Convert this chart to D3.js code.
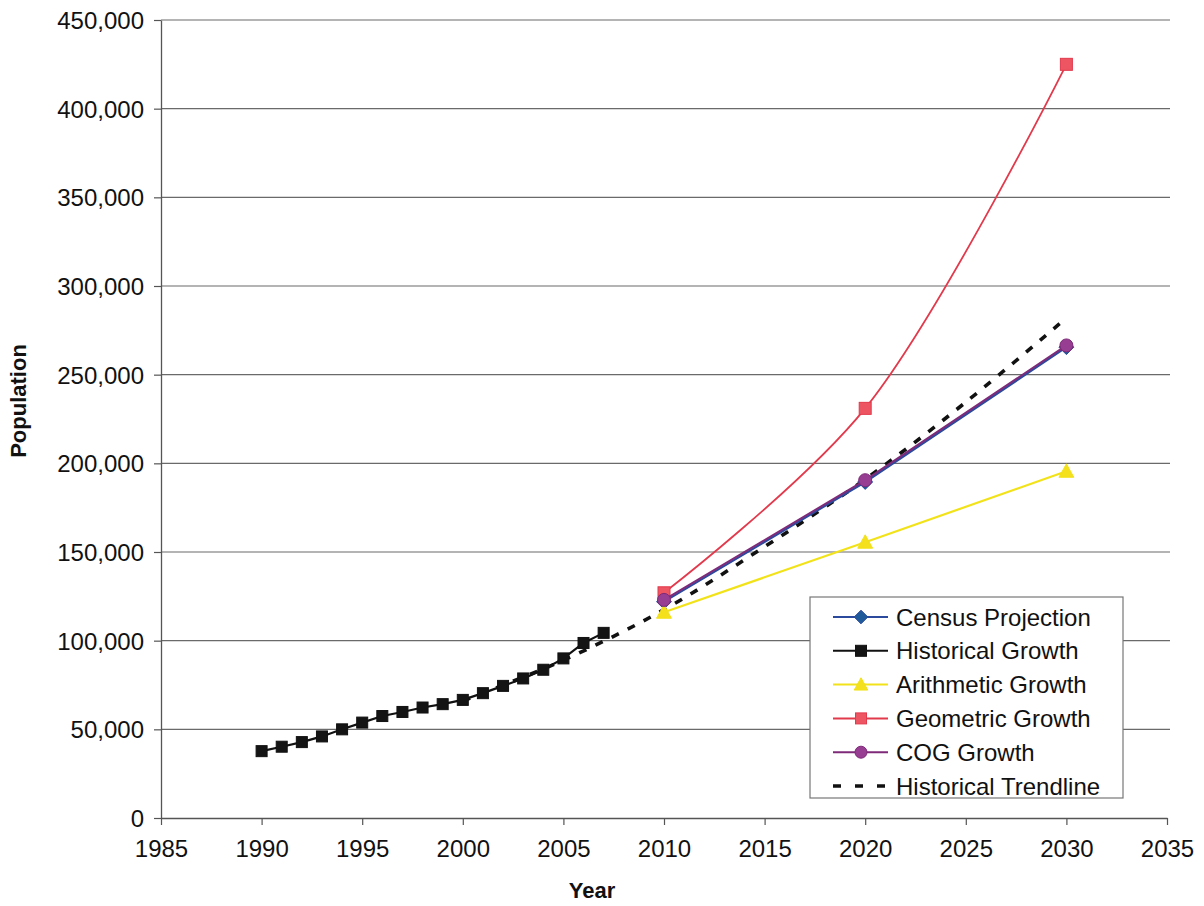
<!DOCTYPE html>
<html>
<head>
<meta charset="utf-8">
<script src="https://cdn.jsdelivr.net/npm/d3@7"></script>
<style>
  html, body { margin: 0; padding: 0; background: #fff; }
  svg { display: block; font-family: "Liberation Sans", Arial, sans-serif; }
</style>
</head>
<body>
<svg id="chart" width="1204" height="906"></svg>
<script>
// ---- data ----
const historicalYears = [1990, 1991, 1992, 1993, 1994, 1995, 1996, 1997, 1998, 1999,
                         2000, 2001, 2002, 2003, 2004, 2005, 2006, 2007];
const historicalPop   = [37700, 40200, 42800, 46000, 50000, 53800, 57500, 59800, 62300, 64200,
                         66600, 70400, 74500, 78700, 83600, 90000, 98700, 104400];

const projectionYears = [2010, 2020, 2030];
const censusPop     = [122000, 189500, 265500];
const arithmeticPop = [116000, 155500, 195500];
const geometricPop  = [127000, 231000, 425000];
const cogPop        = [123000, 190500, 266500];

const trendYears = [2000, 2005, 2010, 2015, 2020, 2025, 2030];
const trendPop   = [66000, 89000, 117500, 153000, 191000, 234500, 282000];

const xTicks = [1985, 1990, 1995, 2000, 2005, 2010, 2015, 2020, 2025, 2030, 2035];
const yTicks = [0, 50000, 100000, 150000, 200000, 250000, 300000, 350000, 400000, 450000];

const legendLabels = ["Census Projection", "Historical Growth", "Arithmetic Growth",
                      "Geometric Growth", "COG Growth", "Historical Trendline"];

// ---- layout ----
const svg = d3.select("#chart");
const x = d3.scaleLinear().domain([1985, 2035]).range([161, 1167]);
const y = d3.scaleLinear().domain([0, 450000]).range([818, 20]);

const fmt = d3.format(",");

// horizontal gridlines
svg.append("g")
  .selectAll("line")
  .data(yTicks.slice(1))
  .join("line")
  .attr("x1", x(1985)).attr("x2", x(2035) + 3)
  .attr("y1", d => y(d)).attr("y2", d => y(d))
  .attr("stroke", "#6a6a6a").attr("stroke-width", 1.1);

// axes
const xAxis = svg.append("g")
  .attr("transform", `translate(0,${y(0)})`)
  .call(d3.axisBottom(x).tickValues(xTicks).tickFormat(d3.format("d"))
        .tickSizeInner(7).tickSizeOuter(0).tickPadding(14));
const yAxis = svg.append("g")
  .attr("transform", `translate(${x(1985)},0)`)
  .call(d3.axisLeft(y).tickValues(yTicks).tickFormat(fmt)
        .tickSizeInner(7).tickSizeOuter(0).tickPadding(10));

[xAxis, yAxis].forEach(g => {
  g.select(".domain").attr("stroke", "#555").attr("stroke-width", 1.3);
  g.selectAll(".tick line").attr("stroke", "#555").attr("stroke-width", 1.2);
  g.selectAll(".tick text")
    .attr("fill", "#111")
    .style("font-size", "24px")
    .style("font-family", "'Liberation Sans', Arial, sans-serif");
});
xAxis.selectAll(".tick text").attr("dy", "0.75em");
yAxis.selectAll(".tick text").attr("dy", "0.35em");

// axis titles
svg.append("text")
  .attr("x", 592).attr("y", 898)
  .attr("text-anchor", "middle")
  .style("font-size", "22px").style("font-weight", "bold")
  .attr("fill", "#111")
  .text("Year");
svg.append("text")
  .attr("transform", "translate(26,401) rotate(-90)")
  .attr("text-anchor", "middle")
  .style("font-size", "22px").style("font-weight", "bold")
  .attr("fill", "#111")
  .text("Population");

// ---- series ----
const lineStraight = d3.line().x(d => x(d[0])).y(d => y(d[1]));
const lineSmooth = d3.line().x(d => x(d[0])).y(d => y(d[1])).curve(d3.curveCatmullRom.alpha(0.5));

const zipPts = (xs, ys) => xs.map((v, i) => [v, ys[i]]);

const series = {
  census:     { pts: zipPts(projectionYears, censusPop),     color: "#2b4a9e", marker: "diamond",  fill: "#1f5a9a" },
  historical: { pts: zipPts(historicalYears, historicalPop), color: "#111111", marker: "square",   fill: "#141414" },
  arithmetic: { pts: zipPts(projectionYears, arithmeticPop), color: "#f2e21a", marker: "triangle", fill: "#f4e01c" },
  geometric:  { pts: zipPts(projectionYears, geometricPop),  color: "#e23a4c", marker: "square",   fill: "#ee5563" },
  cog:        { pts: zipPts(projectionYears, cogPop),        color: "#7e2a78", marker: "circle",   fill: "#973e93" }
};

// trendline (dashed)
svg.append("path")
  .datum(zipPts(trendYears, trendPop))
  .attr("d", lineSmooth)
  .attr("fill", "none")
  .attr("stroke", "#111")
  .attr("stroke-width", 3.6)
  .attr("stroke-dasharray", "8,10");

function drawMarker(g, kind, cx, cy, fill, stroke, size) {
  if (kind === "square") {
    g.append("rect")
      .attr("x", cx - size / 2).attr("y", cy - size / 2)
      .attr("width", size).attr("height", size)
      .attr("fill", fill).attr("stroke", stroke).attr("stroke-width", 1);
  } else if (kind === "triangle") {
    const s = size * 0.62;
    g.append("path")
      .attr("d", `M${cx},${cy - s} L${cx + s},${cy + s * 0.8} L${cx - s},${cy + s * 0.8} Z`)
      .attr("fill", fill).attr("stroke", stroke).attr("stroke-width", 1);
  } else if (kind === "circle") {
    g.append("circle")
      .attr("cx", cx).attr("cy", cy).attr("r", size / 2 + 0.5)
      .attr("fill", fill).attr("stroke", stroke).attr("stroke-width", 1);
  } else if (kind === "diamond") {
    const s = size * 0.62;
    g.append("path")
      .attr("d", `M${cx},${cy - s} L${cx + s},${cy} L${cx},${cy + s} L${cx - s},${cy} Z`)
      .attr("fill", fill).attr("stroke", stroke).attr("stroke-width", 1);
  }
}

const drawOrder = [
  ["census", false, 2.2],
  ["historical", false, 2.2],
  ["arithmetic", false, 2.2],
  ["geometric", true, 1.8],
  ["cog", false, 2]
];

drawOrder.forEach(([key, smooth, w]) => {
  const s = series[key];
  const g = svg.append("g").attr("class", key);
  g.append("path")
    .datum(s.pts)
    .attr("d", smooth ? lineSmooth : lineStraight)
    .attr("fill", "none")
    .attr("stroke", s.color)
    .attr("stroke-width", w);
  s.pts.forEach(p => {
    const size = key === "historical" ? 11 : 12;
    drawMarker(g, s.marker, x(p[0]), y(p[1]), s.fill, s.color, size);
  });
});

// ---- legend ----
const lg = svg.append("g").attr("transform", "translate(810,597)");
lg.append("rect")
  .attr("width", 313).attr("height", 201)
  .attr("fill", "#fff").attr("stroke", "#777").attr("stroke-width", 1.2);

const legendKeys = ["census", "historical", "arithmetic", "geometric", "cog", "trend"];
legendKeys.forEach((key, i) => {
  const cy = 20 + i * 33.8;
  const row = lg.append("g");
  if (key === "trend") {
    row.append("line")
      .attr("x1", 23).attr("x2", 78).attr("y1", cy).attr("y2", cy)
      .attr("stroke", "#111").attr("stroke-width", 3.6)
      .attr("stroke-dasharray", "8,14");
  } else {
    const s = series[key];
    row.append("line")
      .attr("x1", 23).attr("x2", 78).attr("y1", cy).attr("y2", cy)
      .attr("stroke", s.color).attr("stroke-width", 2);
    drawMarker(row, s.marker, 51, cy, s.fill, s.color, 11);
  }
  row.append("text")
    .attr("x", 86).attr("y", cy)
    .attr("dy", "0.36em")
    .style("font-size", "24px")
    .attr("fill", "#111")
    .text(legendLabels[i]);
});
</script>
</body>
</html>
